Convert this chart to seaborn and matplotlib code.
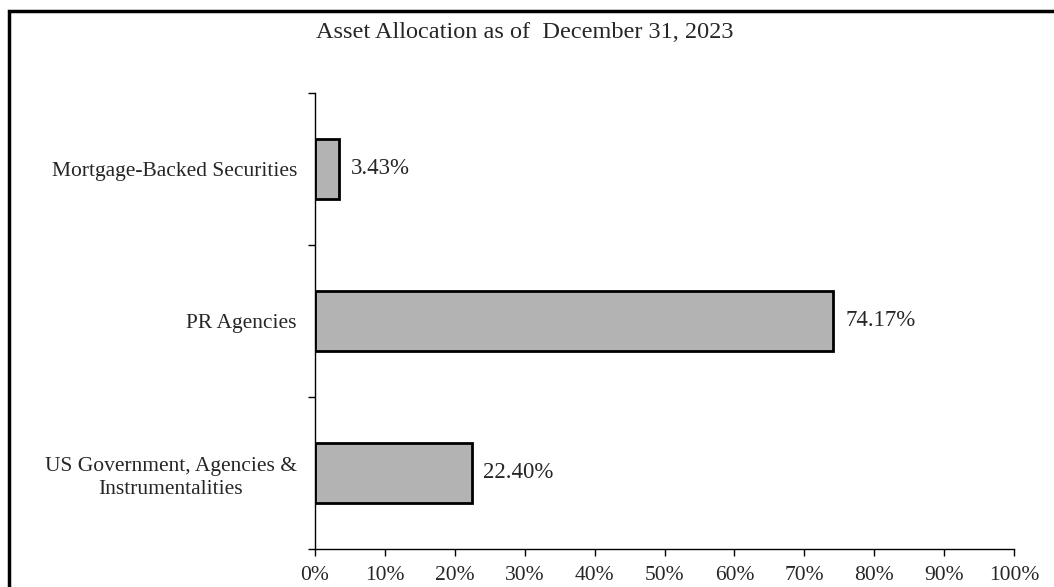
import numpy as np
import pandas as pd
import matplotlib
matplotlib.use('Agg')
import matplotlib.pyplot as plt
import seaborn as sns
from matplotlib.patches import Rectangle

# data
categories = ['Mortgage-Backed Securities', 'PR Agencies',
              'US Government, Agencies &\nInstrumentalities']
shares = [3.43, 74.17, 22.40]
tick_values = [0, 10, 20, 30, 40, 50, 60, 70, 80, 90, 100]
title = 'Asset Allocation as of  December 31, 2023'

df = pd.DataFrame({'category': categories, 'share': shares})

sns.set_style('white')
plt.rcParams['font.family'] = ['Liberation Serif', 'DejaVu Serif']
plt.rcParams['font.size'] = 15.5

fig = plt.figure(figsize=(10.54, 5.87), dpi=100)
ax = fig.add_axes([315 / 1054, 1 - 549 / 587, 699 / 1054, 456 / 587])

sns.barplot(data=df, x='share', y='category', order=categories, orient='h',
            color='#b3b3b3', edgecolor='black', linewidth=2, width=0.4,
            saturation=1, ax=ax)

ax.set_xlim(0, 100)
ax.set_ylim(2.5, -0.5)
ax.set_xticks(tick_values)
ax.set_xticklabels([f'{v}%' for v in tick_values], fontsize=15.5)
ax.set_yticks(range(len(categories)))
ax.set_yticklabels(categories, multialignment='center', fontsize=15.5, linespacing=1.35)
ax.set_yticks([-0.5, 0.5, 1.5, 2.5], minor=True)
ax.tick_params(axis='y', which='major', length=0, pad=13)
ax.tick_params(axis='y', which='minor', length=5, width=1, color='black', direction='out', left=True)
ax.tick_params(axis='x', length=5, width=1, color='black', direction='out', bottom=True, pad=7)
ax.set_xlabel('')
ax.set_ylabel('')

for s in ['top', 'right']:
    ax.spines[s].set_visible(False)
for s in ['left', 'bottom']:
    ax.spines[s].set_color('black')
    ax.spines[s].set_linewidth(1)

for i, v in enumerate(shares):
    ax.text(v + 1.7, i, f'{v:.2f}%', va='center', ha='left', fontsize=16.5)

fig.text(525 / 1054, 1 - 33 / 587, title, ha='center', va='center', fontsize=17.5)

# outer frame of the chart (cropped at right and bottom)
fig.patches.append(Rectangle((9 / 1054, -0.05), 1.1, 1 - 11 / 587 + 0.05,
                             transform=fig.transFigure, fill=False,
                             edgecolor='black', linewidth=2.5))

fig.savefig('out.png', dpi=100)
